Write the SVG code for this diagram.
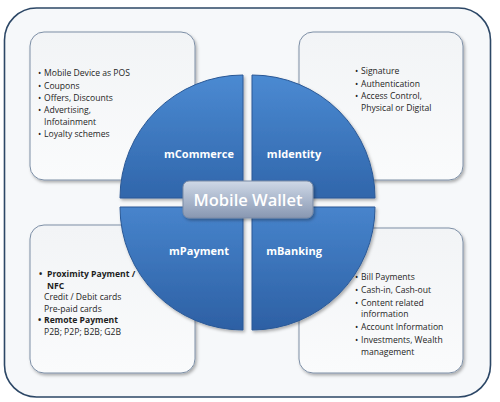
<svg xmlns="http://www.w3.org/2000/svg" width="500" height="402" viewBox="0 0 500 402">
<style>
.item{font-family:"Open Sans","Liberation Sans",sans-serif;font-size:8.6px;fill:#1e1e1e}
.b{font-weight:700}
.ql{font-family:"Open Sans","Liberation Sans",sans-serif;font-size:11px;font-weight:700;fill:#ffffff;text-anchor:middle}
.box{fill:url(#boxg);stroke:#7c8ea5;stroke-width:1}
.quad{stroke:#2b5996;stroke-width:1}
</style>
<defs>
<linearGradient id="boxg" x1="0" y1="0" x2="0" y2="1">
<stop offset="0" stop-color="#f2f4f6"/><stop offset="1" stop-color="#fafbfc"/>
</linearGradient>
<linearGradient id="qtop" x1="0" y1="0" x2="0" y2="1">
<stop offset="0" stop-color="#4b8ad2"/><stop offset="1" stop-color="#3066ab"/>
</linearGradient>
<linearGradient id="qbot" x1="0" y1="0" x2="0" y2="1">
<stop offset="0" stop-color="#4784cc"/><stop offset="1" stop-color="#2d60a4"/>
</linearGradient>
<linearGradient id="cg" x1="0" y1="0" x2="0" y2="1">
<stop offset="0" stop-color="#cfd8e6"/><stop offset="0.5" stop-color="#abb8cd"/><stop offset="1" stop-color="#8897b1"/>
</linearGradient>
<filter id="sh" x="-10%" y="-10%" width="125%" height="125%">
<feDropShadow dx="1.5" dy="2" stdDeviation="1.5" flood-color="#000" flood-opacity="0.3"/>
</filter>
</defs>
<rect x="0" y="0" width="500" height="402" fill="#ffffff"/>
<g id="frame">
<rect x="4.5" y="8" width="486" height="389" rx="32" fill="#f6f8fa" stroke="#2c4766" stroke-width="1.6"/>
</g>
<g id="commerce-box">
<rect class="box" x="30" y="32" width="165" height="148" rx="14" filter="url(#sh)"/>
<text class="item" x="38" y="76">•</text><text class="item" x="44" y="76">Mobile Device as POS</text>
<text class="item" x="38" y="88.5">•</text><text class="item" x="44" y="88.5">Coupons</text>
<text class="item" x="38" y="101">•</text><text class="item" x="44" y="101">Offers, Discounts</text>
<text class="item" x="38" y="113">•</text><text class="item" x="44" y="113">Advertising,</text>
<text class="item" x="44" y="124.5">Infotainment</text>
<text class="item" x="38" y="137">•</text><text class="item" x="44" y="137">Loyalty schemes</text>
</g>
<g id="identity-box">
<rect class="box" x="299" y="32" width="164" height="148" rx="14" filter="url(#sh)"/>
<text class="item" x="355" y="74">•</text><text class="item" x="361" y="74">Signature</text>
<text class="item" x="355" y="86.5">•</text><text class="item" x="361" y="86.5">Authentication</text>
<text class="item" x="355" y="99">•</text><text class="item" x="361" y="99">Access Control,</text>
<text class="item" x="361" y="110.5">Physical or Digital</text>
</g>
<g id="payment-box">
<rect class="box" x="30" y="225" width="165" height="148" rx="14" filter="url(#sh)"/>
<text class="item b" x="39" y="277">•</text><text class="item b" x="47" y="277">Proximity Payment /</text>
<text class="item b" x="47" y="288.5">NFC</text>
<text class="item" x="44" y="300">Credit / Debit cards</text>
<text class="item" x="44" y="311.5">Pre-paid cards</text>
<text class="item b" x="38" y="323">•</text><text class="item b" x="44" y="323">Remote Payment</text>
<text class="item" x="44" y="334.5">P2B; P2P; B2B; G2B</text>
</g>
<g id="banking-box">
<rect class="box" x="299" y="228" width="164" height="145" rx="14" filter="url(#sh)"/>
<text class="item" x="355" y="280">•</text><text class="item" x="361" y="280">Bill Payments</text>
<text class="item" x="355" y="292.5">•</text><text class="item" x="361" y="292.5">Cash-in, Cash-out</text>
<text class="item" x="355" y="305.5">•</text><text class="item" x="361" y="305.5">Content related</text>
<text class="item" x="361" y="317">information</text>
<text class="item" x="355" y="330">•</text><text class="item" x="361" y="330">Account Information</text>
<text class="item" x="355" y="343">•</text><text class="item" x="361" y="343">Investments, Wealth</text>
<text class="item" x="361" y="354.5">management</text>
</g>
<g id="mCommerce">
<path class="quad" d="M243,198 L243,75 A123,123 0 0 0 120,198 Z" fill="url(#qtop)" filter="url(#sh)"/>
<text class="ql" x="199" y="158">mCommerce</text>
</g>
<g id="mIdentity">
<path class="quad" d="M252,198 L252,75 A123,123 0 0 1 375,198 Z" fill="url(#qtop)" filter="url(#sh)"/>
<text class="ql" x="294" y="158">mIdentity</text>
</g>
<g id="mPayment">
<path class="quad" d="M243,207 L120,207 A123,123 0 0 0 243,330 Z" fill="url(#qbot)" filter="url(#sh)"/>
<text class="ql" x="199" y="255">mPayment</text>
</g>
<g id="mBanking">
<path class="quad" d="M252,207 L375,207 A123,123 0 0 1 252,330 Z" fill="url(#qbot)" filter="url(#sh)"/>
<text class="ql" x="294" y="255">mBanking</text>
</g>
<g id="mobile-wallet">
<rect x="183" y="181" width="130" height="37" rx="6" fill="url(#cg)" stroke="#7b8ba5" stroke-width="1" filter="url(#sh)"/>
<text x="248" y="206" text-anchor="middle" font-family="'Open Sans','Liberation Sans',sans-serif" font-size="16.5" font-weight="600" fill="#ffffff">Mobile Wallet</text>
</g>
</svg>
